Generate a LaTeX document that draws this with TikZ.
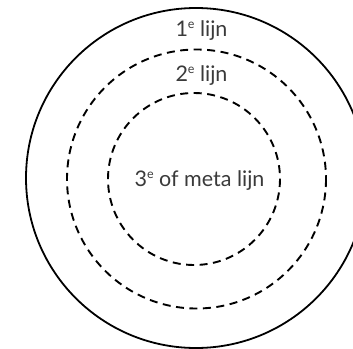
\documentclass[tikz,border=0pt]{standalone}
\usepackage{fontspec}
\setmainfont{Lato}
\definecolor{txt}{HTML}{3a3a3a}
\newcommand{\supe}{\raisebox{0.8ex}{\fontsize{12.5}{14}\selectfont e}}
\begin{document}
\begin{tikzpicture}[x=1pt,y=-1pt,
  ring/.style={draw=black, line width=1.8pt},
  dashring/.style={draw=black, line width=1.9pt, dash pattern=on 8pt off 5.5pt},
  lbl/.style={text=txt, font=\fontsize{21.5}{26}\selectfont, inner sep=0pt}]
\useasboundingbox (0,0) rectangle (353,348);
\clip (0,0) rectangle (353,348);
\coordinate (c) at (196,178);
\draw[ring] (c) circle[radius=170];
\draw[dashring] (196.5,179) circle[radius=129.5];
\draw[dashring] (194,179) circle[radius=86];
\node[lbl] (l1) at (201.5,31) {1\supe\ lijn};
\node[lbl] (l2) at (201.5,76) {2\supe\ lijn};
\node[lbl] (l3) at (199.5,181) {3\supe\ of meta lijn};
\end{tikzpicture}
\end{document}
